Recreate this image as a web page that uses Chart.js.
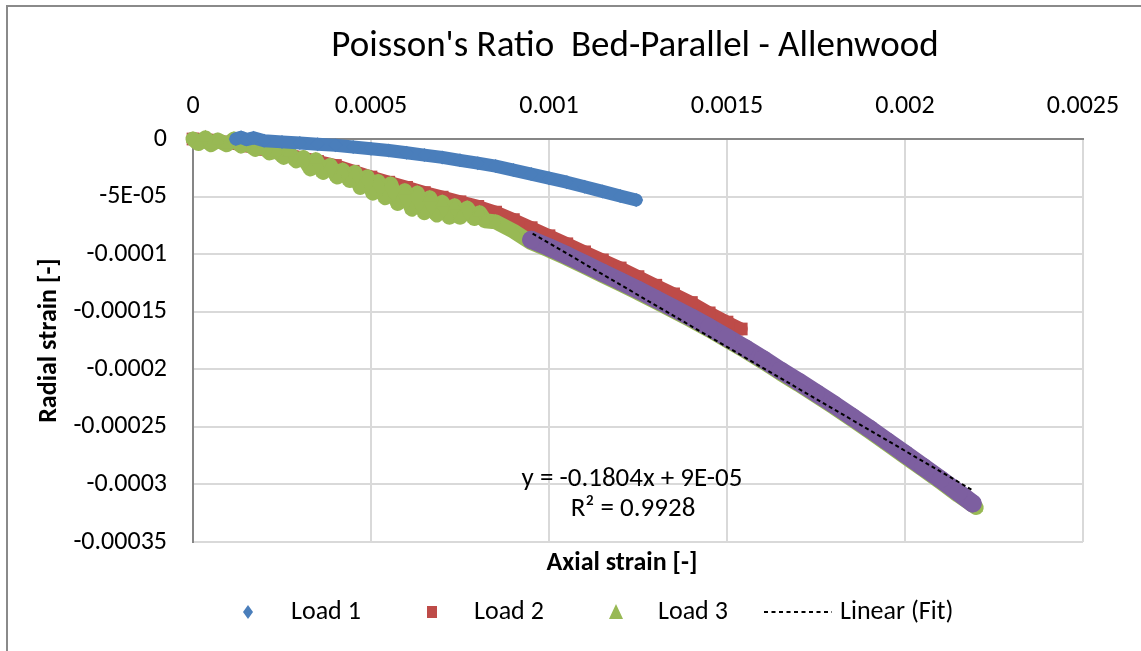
<!DOCTYPE html>
<html>
<head>
<meta charset="utf-8">
<title>Poisson's Ratio Bed-Parallel - Allenwood</title>
<script src="https://cdn.jsdelivr.net/npm/chart.js@4.4.1/dist/chart.umd.min.js"></script>
<style>
  html, body { margin: 0; padding: 0; background: #fff; }
  #wrap { position: relative; width: 1141px; height: 651px; }
</style>
</head>
<body>
<div id="wrap"><canvas id="poisson"></canvas></div>
<script>
// all strains below are in microstrain, scaled when the datasets are built
const MICRO = 1e-6;

// Load 1
const load1X = [120, 135, 150, 170, 200, 250, 300, 350, 400, 450, 500, 550, 600, 650, 700, 750, 800, 850,
                900, 950, 1000, 1050, 1100, 1150, 1200, 1245];
const load1Y = [0, 1.5, -0.5, 1, -1.5, -2.5, -3.5, -4.5, -5.5, -7, -8.5, -10, -12, -14, -16, -18.5, -21, -23.5,
                -27, -30.5, -34, -37.5, -41.5, -45.5, -49.5, -53];

// Load 2
const load2X = [0, 50, 100, 150, 200, 250, 300, 350, 400, 450, 500, 550, 600, 650, 700, 750, 800,
                850, 900, 950, 1000, 1050, 1100, 1150, 1200, 1250, 1300, 1350, 1400, 1450, 1500, 1540];
const load2Y = [0, -1, -3, -6, -9, -12, -16, -19.5, -23, -28, -33, -37.5, -42, -46.5, -50.5, -54.5, -58.5,
                -63.5, -70, -77, -84, -91, -98, -105, -112, -119.5, -127, -134.5, -142, -151, -159, -165];

// Load 3 (noisy at low strain, then smooth)
const load3X = [0, 15, 35, 50, 70, 95, 115, 135, 150, 175, 195, 215, 235, 255, 270, 290, 310, 330,
                345, 365, 385, 405, 420, 440, 455, 470, 490, 505, 520, 540, 555, 575, 595, 615, 630,
                650, 665, 685, 700, 720, 735, 750, 770, 790, 805, 820,
                850, 900, 950, 1000, 1050, 1100, 1150, 1200, 1250, 1300, 1350, 1400, 1450, 1500,
                1550, 1600, 1650, 1700, 1750, 1800, 1850, 1900, 1950, 2000, 2050, 2100, 2150, 2200];
const load3Y = [0, -4, 1, -5, -1, -5, 0, -6, -3, -9, -6, -12, -10, -16, -12, -19, -16, -26,
                -18, -29, -23, -33, -27, -36, -29, -42, -33, -47, -37, -51, -39, -56, -45, -61, -47,
                -64, -51, -66, -55, -68, -58, -68, -60, -69, -64, -71,
                -72, -80, -90, -96.5, -103.5, -111, -118.5, -126, -133.5, -141.5, -149.5, -157.5, -166, -175,
                -184, -193.5, -203.5, -213, -223, -233, -243.5, -254, -265, -276, -287, -298, -309.5, -320];

// Fit range (points used for the linear trendline)
const fitX = [950, 1000, 1050, 1100, 1150, 1200, 1250, 1300, 1350, 1400, 1450, 1500, 1550, 1600,
              1650, 1700, 1750, 1800, 1850, 1900, 1950, 2000, 2050, 2100, 2150, 2190];
const fitY = [-87.5, -94, -101, -108.5, -116, -123.5, -131, -139, -147, -155, -163.5, -172.5, -181.5, -191,
              -201, -210.5, -220.5, -230.5, -241, -251.5, -262.5, -273.5, -284.5, -295.5, -307, -316.5];

// trendline as reported on the chart
const fitSlope = -0.1804;
const fitIntercept = 9E-05;
const fitR2 = '0.9928';
const trendX = [954, 2190];

const xTicks = [0, 0.0005, 0.001, 0.0015, 0.002, 0.0025];
const yTicks = [0, -0.00005, -0.0001, -0.00015, -0.0002, -0.00025, -0.0003, -0.00035];

const BLUE = '#4a7ebb';
const RED = '#be4b48';
const GREEN = '#98b954';
const PURPLE = '#7d5fa0';
const FONT = "Carlito, Lato, 'Liberation Sans', sans-serif";

// Excel "General" number format
function fmt(v) {
    if (Math.abs(v) < 1e-12) return '0';
    const r = Number(v.toPrecision(6));
    if (Math.abs(r) < 1e-4) {
        const [m, e] = r.toExponential().split('e');
        const n = Number(e);
        return m + 'E' + (n < 0 ? '-' : '+') + String(Math.abs(n)).padStart(2, '0');
    }
    return String(r);
}

function points(xs, ys) {
    return xs.map((x, i) => ({ x: x * MICRO, y: ys[i] * MICRO }));
}

function series(label, xs, ys, color, style, radius, width, order) {
    return {
        label: label,
        data: points(xs, ys),
        showLine: true,
        borderColor: color,
        backgroundColor: color,
        borderWidth: width,
        borderJoinStyle: 'round',
        borderCapStyle: 'round',
        pointStyle: style,
        pointRadius: radius,
        pointHoverRadius: radius,
        pointBorderWidth: 0,
        pointBackgroundColor: color,
        order: order,
        clip: false
    };
}

// title, x title, regression text, legend and outer frame
const decorations = {
    id: 'decorations',
    beforeDraw(chart) {
        const ctx = chart.ctx;
        ctx.save();
        ctx.fillStyle = '#fff';
        ctx.fillRect(0, 0, chart.width, chart.height);
        ctx.strokeStyle = '#8a8a8a';
        ctx.lineWidth = 2;
        ctx.strokeRect(7, 6, chart.width + 20, chart.height + 20);
        ctx.fillStyle = '#000';
        ctx.textAlign = 'center';
        ctx.textBaseline = 'middle';
        ctx.font = '37px ' + FONT;
        ctx.fillText("Poisson's Ratio  Bed-Parallel - Allenwood", 635, 47);
        ctx.font = 'bold 26px ' + FONT;
        ctx.fillText('Axial strain [-]', 622, 563);
        ctx.restore();
    },
    afterDraw(chart) {
        const ctx = chart.ctx;
        ctx.save();
        ctx.fillStyle = '#000';
        ctx.textBaseline = 'middle';
        ctx.textAlign = 'center';
        ctx.font = '27px ' + FONT;
        ctx.fillText('y = ' + fitSlope + 'x + ' + fmt(fitIntercept), 632, 479);
        ctx.fillText('R\u00b2 = ' + fitR2, 633, 509);

        // legend
        const ly = 612;
        ctx.textAlign = 'left';
        ctx.fillStyle = BLUE;
        ctx.beginPath();
        ctx.moveTo(248, ly - 7); ctx.lineTo(253, ly); ctx.lineTo(248, ly + 7); ctx.lineTo(243, ly);
        ctx.closePath(); ctx.fill();
        ctx.fillStyle = RED;
        ctx.fillRect(427, ly - 6, 10, 12);
        ctx.fillStyle = GREEN;
        ctx.beginPath();
        ctx.moveTo(616, ly - 8); ctx.lineTo(623, ly + 7); ctx.lineTo(609, ly + 7);
        ctx.closePath(); ctx.fill();
        ctx.strokeStyle = '#000';
        ctx.lineWidth = 2;
        ctx.setLineDash([4, 3.5]);
        ctx.beginPath(); ctx.moveTo(764, ly); ctx.lineTo(832, ly); ctx.stroke();
        ctx.setLineDash([]);
        ctx.fillStyle = '#000';
        ctx.font = '26px ' + FONT;
        ctx.fillText('Load 1', 291, ly);
        ctx.fillText('Load 2', 474, ly);
        ctx.fillText('Load 3', 658, ly);
        ctx.fillText('Linear (Fit)', 840, ly);
        ctx.restore();
    }
};

const ctx = document.getElementById('poisson').getContext('2d');
new Chart(ctx, {
    type: 'scatter',
    data: {
        datasets: [
            series('Load 1', load1X, load1Y, BLUE, 'rectRot', 7, 13, 2),
            series('Load 2', load2X, load2Y, RED, 'rect', 9, 13, 4),
            series('Load 3', load3X, load3Y, GREEN, 'triangle', 8, 15, 3),
            series('Fit', fitX, fitY, PURPLE, 'circle', 9, 18, 1),
            {
                label: 'Linear (Fit)',
                data: trendX.map(x => ({ x: x * MICRO, y: fitSlope * x * MICRO + fitIntercept })),
                showLine: true,
                borderColor: '#000',
                borderWidth: 2,
                borderDash: [4, 3],
                pointRadius: 0,
                pointHoverRadius: 0,
                order: 0
            }
        ]
    },
    options: {
        responsive: true,
        maintainAspectRatio: false,
        animation: false,
        devicePixelRatio: 1,
        layout: { padding: { left: 0, top: 0, right: 58, bottom: 109 } },
        plugins: {
            legend: { display: false },
            title: { display: false },
            tooltip: { enabled: false }
        },
        scales: {
            x: {
                type: 'linear',
                position: 'top',
                min: 0,
                max: 0.0025,
                afterBuildTicks: s => { s.ticks = xTicks.map(v => ({ value: v })); },
                afterFit: s => { s.height = 139; },
                ticks: {
                    callback: v => fmt(v),
                    color: '#000',
                    font: { family: FONT, size: 26 },
                    padding: 17,
                    maxRotation: 0,
                    autoSkip: false
                },
                grid: { color: '#d9d9d9', lineWidth: 2, drawTicks: false },
                border: { color: '#868686', width: 2 }
            },
            y: {
                type: 'linear',
                position: 'left',
                min: -0.00035,
                max: 0,
                afterBuildTicks: s => { s.ticks = yTicks.map(v => ({ value: v })); },
                afterFit: s => { s.width = 193; },
                ticks: {
                    callback: v => fmt(v),
                    color: '#000',
                    font: { family: FONT, size: 26 },
                    padding: 26,
                    autoSkip: false
                },
                grid: { color: '#d9d9d9', lineWidth: 2, drawTicks: false },
                border: { color: '#868686', width: 2 },
                title: {
                    display: true,
                    text: 'Radial strain [-]',
                    color: '#000',
                    font: { family: FONT, size: 26, weight: 'bold' },
                    padding: { top: 34, bottom: 0 }
                }
            }
        }
    },
    plugins: [decorations]
});
</script>
</body>
</html>
